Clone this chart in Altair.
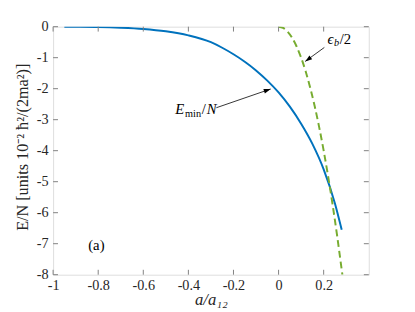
import math
import altair as alt
import pandas as pd

# ---------------- data ----------------
blue_x = [-0.95, -0.9, -0.8, -0.7, -0.6, -0.5, -0.4, -0.3, -0.25, -0.2, -0.15, -0.1, -0.05,
          0.0, 0.05, 0.1, 0.15, 0.2, 0.25, 0.28]
blue_y = [0.0, -0.003, -0.012, -0.035, -0.075, -0.15, -0.28, -0.5, -0.68, -0.89, -1.13, -1.41,
          -1.74, -2.12, -2.58, -3.13, -3.78, -4.6, -5.7, -6.55]

green_x = [0.0, 0.02, 0.04, 0.06, 0.08, 0.10, 0.12, 0.14, 0.16, 0.18, 0.20,
           0.22, 0.24, 0.26, 0.28, 0.283]
green_y = [0.0, -0.04, -0.16, -0.36, -0.64, -1.0, -1.44, -1.96, -2.56, -3.24, -4.0,
           -4.84, -5.76, -6.76, -7.84, -8.0]

x_ticks = [-1, -0.8, -0.6, -0.4, -0.2, 0, 0.2]
y_ticks = [0, -1, -2, -3, -4, -5, -6, -7, -8]

x_title = "a/a₁₂"
y_title = "E/N [units 10⁻² ħ²/(2ma²)]"

# annotations: label anchor, arrow start, arrow tip
emin_label = (-0.458, -2.83)
emin_arrow = (-0.276, -2.615, -0.035, -2.01)
eps_label = (0.217, -0.546)
eps_arrow = (0.203, -0.67, 0.118, -1.12)
panel_label = (-0.808, -7.19, "(a)")

# ---------------- styling ----------------
W, H = 322, 253
XMIN, XMAX = -1.0, 0.4
YMIN, YMAX = -8.0, 0.0
FRAME = "#808080"
TXT = "#262626"
SERIF = "Liberation Serif"
BLUE = "#0072BD"
GREEN = "#77AC30"

xs = alt.Scale(domain=[XMIN, XMAX], nice=False, zero=False)
ys = alt.Scale(domain=[YMIN, YMAX], nice=False, zero=False)

lbl_expr = "datum.value == 0 ? '0' : (datum.value < 0 ? '-' : '') + format(abs(datum.value), '~g')"

x_axis = alt.Axis(values=x_ticks, labelExpr=lbl_expr, domain=False, ticks=False, grid=False,
                  labelFlush=False, labelFont=SERIF, labelFontSize=14.5, labelColor=TXT,
                  labelPadding=4, title=x_title, titleFont=SERIF, titleFontSize=17,
                  titleFontStyle="italic", titleFontWeight="normal", titleColor=TXT,
                  titleY=25, titleBaseline="middle")
y_axis = alt.Axis(values=y_ticks, labelExpr=lbl_expr, domain=False, ticks=False, grid=False,
                  labelFont=SERIF, labelFontSize=14.5, labelColor=TXT, labelPadding=5,
                  title=y_title, titleFont=SERIF, titleFontSize=16.5, titleFontWeight="normal",
                  titleColor=TXT, titleX=-31, titleY=H / 2 - 4, titleAngle=270,
                  titleAlign="center", titleBaseline="middle")


def X(field):
    return alt.X(field, type="quantitative", scale=xs, axis=x_axis)


def Y(field):
    return alt.Y(field, type="quantitative", scale=ys, axis=y_axis)


df_blue = pd.DataFrame({"x": blue_x, "y": blue_y})
df_green = pd.DataFrame({"x": green_x, "y": green_y})

blue = alt.Chart(df_blue).mark_line(color=BLUE, strokeWidth=2, interpolate="monotone", clip=True).encode(
    x=X("x"), y=Y("y"))
green = alt.Chart(df_green).mark_line(color=GREEN, strokeWidth=2, strokeDash=[7, 4],
                                      interpolate="monotone", clip=True).encode(
    x=X("x"), y=Y("y"))

# inward ticks on all four sides
df_xt = pd.DataFrame({"x": x_ticks})
df_yt = pd.DataFrame({"y": y_ticks})
TL = 5
tick_b = alt.Chart(df_xt).mark_rule(color=FRAME).encode(
    x=X("x"), y=alt.value(H), y2=alt.value(H - TL))
tick_t = alt.Chart(df_xt).mark_rule(color=FRAME).encode(
    x=X("x"), y=alt.value(0), y2=alt.value(TL))
tick_l = alt.Chart(df_yt).mark_rule(color=FRAME).encode(
    y=Y("y"), x=alt.value(0), x2=alt.value(TL))
tick_r = alt.Chart(df_yt).mark_rule(color=FRAME).encode(
    y=Y("y"), x=alt.value(W), x2=alt.value(W - TL))

# arrows
px_x = W / (XMAX - XMIN)
px_y = H / (YMAX - YMIN)


def angle_of(a):
    sx, sy, tx, ty = a
    dx = (tx - sx) * px_x
    dy = -(ty - sy) * px_y
    return math.degrees(math.atan2(dx, -dy)) % 360


arrows = [emin_arrow, eps_arrow]
df_arr = pd.DataFrame({
    "x": [a[0] for a in arrows], "y": [a[1] for a in arrows],
    "x2": [a[2] for a in arrows], "y2": [a[3] for a in arrows],
    "ang": [angle_of(a) for a in arrows],
})
arrow_lines = alt.Chart(df_arr).mark_rule(color="#000000", strokeWidth=0.8).encode(
    x=X("x"), y=Y("y"), x2="x2:Q", y2="y2:Q")
arrow_heads = alt.Chart(df_arr).mark_point(
    shape="M0,0 L0.45,1.35 L-0.45,1.35 Z", filled=True, color="#000000", opacity=1, size=110
).encode(x=X("x2"), y=Y("y2"), angle=alt.Angle("ang:Q", scale=None))


def piece(anchor, text, size, dx=0, dy=0, style="normal", align="left"):
    d = pd.DataFrame({"x": [anchor[0]], "y": [anchor[1]], "t": [text]})
    return alt.Chart(d).mark_text(
        font=SERIF, fontSize=size, fontStyle=style, color="#000000", align=align,
        baseline="alphabetic", dx=dx, dy=dy
    ).encode(x=X("x"), y=Y("y"), text="t:N")


texts = [
    piece(emin_label, "E", 15, 0, 0, "italic"),
    piece(emin_label, "min", 10.5, 10, 2.5),
    piece(emin_label, "/", 15, 27, 0),
    piece(emin_label, "N", 15, 32, 0, "italic"),
    piece(eps_label, "ϵ", 15, 0, 0, "italic"),
    piece(eps_label, "b", 10.5, 6.5, 2.5, "italic"),
    piece(eps_label, "/2", 15, 12.5, 0),
    piece(panel_label[:2], panel_label[2], 15, 0, 0, "normal", "center"),
]

chart = alt.layer(
    blue, green, tick_b, tick_t, tick_l, tick_r, arrow_lines, arrow_heads, *texts
).properties(
    width=W, height=H,
    padding={"left": 46, "top": 16, "right": 39, "bottom": 35},
    autosize=alt.AutoSizeParams(type="none"),
).configure_view(
    stroke=FRAME, strokeWidth=1
).configure(background="white")

chart.save("out.html", embed_options={"renderer": "svg", "actions": False})
